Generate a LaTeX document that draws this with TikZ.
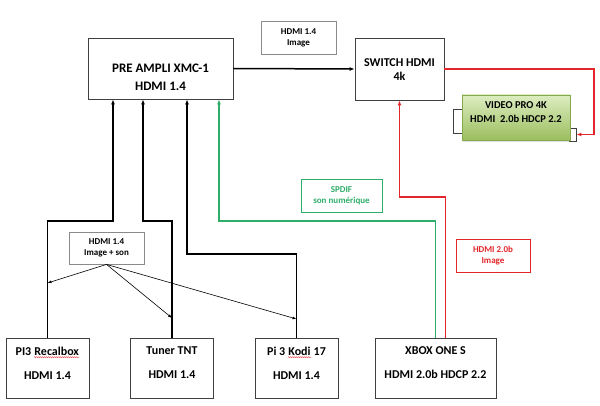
\documentclass[tikz,border=0pt]{standalone}
\usepackage{fontspec}
\setmainfont{Carlito}
\usepackage{xcolor}
\usetikzlibrary{arrows.meta,shadows,decorations.pathmorphing}
\definecolor{cableRed}{HTML}{E3262B}
\definecolor{cableGreen}{HTML}{2FAE6A}
\definecolor{tagGray}{HTML}{8A8A8A}
\definecolor{proTop}{HTML}{DCEDC1}
\definecolor{proBottom}{HTML}{9CBE5E}
\definecolor{proEdge}{HTML}{86A84E}
\newcommand\spellwave[1]{\tikz[baseline=(sw.base)]{\node[inner sep=0pt] (sw) {#1};
  \draw[cableRed, line width=0.35pt, decorate, decoration={snake, amplitude=0.5pt, segment length=2pt}]
    ([yshift=-2pt]sw.base west) -- ([yshift=-2pt]sw.base east);}}

\tikzset{
  devbox/.style={draw=black!75, line width=0.8pt, fill=white, inner sep=0pt},
  devtext/.style={align=center, inner sep=0pt, font=\bfseries\fontsize{12}{24}\selectfont},
  portbox/.style={draw=black!75, line width=0.8pt, fill=white, inner sep=0pt},
  tagbox/.style={draw=tagGray, line width=0.8pt, fill=white, align=center, inner sep=0pt,
    minimum height=33pt, font=\bfseries\fontsize{9}{11}\selectfont},
  cable/.style={line width=1.5pt, -{Latex[length=5pt,width=4pt]}},
  thinarrow/.style={line width=0.6pt, -{Latex[length=4pt,width=3pt]}},
}

\begin{document}
\begin{tikzpicture}[x=1pt, y=-1pt]
  \useasboundingbox (0,0) rectangle (600,406);

  % top row
  \node[devbox, minimum width=145pt, minimum height=61pt] (preampli) at (160.5,68.5) {};
  \node[devtext, font=\bfseries\fontsize{13}{18}\selectfont] (preampli-t) at (160.5,77) {PRE AMPLI XMC-1\\HDMI 1.4};
  \node[devbox, minimum width=89pt, minimum height=62pt] (switchhdmi) at (399.5,69) {};
  \node[devtext, font=\bfseries\fontsize{12}{14}\selectfont] (switchhdmi-t) at (399.5,70) {SWITCH HDMI\\4k};
  \node[tagbox, minimum width=75pt] (tagimage) at (298.5,37.5) {HDMI 1.4\\Image};

  % video pro and its ports
  \node[portbox, minimum width=10pt, minimum height=24pt] (vportin) at (458,121) {};
  \node[portbox, minimum width=7pt, minimum height=13pt] (vportout) at (572.5,134.5) {};
  \node[draw=proEdge, line width=0.6pt, top color=proTop, bottom color=proBottom,
    minimum width=108pt, minimum height=45pt, inner sep=0pt,
    drop shadow={opacity=0.25, shadow xshift=0.8pt, shadow yshift=-1.6pt}] (videopro) at (516,117.5) {};
  \node[devtext, font=\bfseries\fontsize{10.5}{14}\selectfont] (videopro-t) at (516,112.5) {VIDEO PRO 4K\\HDMI\ \ 2.0b HDCP 2.2};

  % sources
  \node[devbox, minimum width=83pt, minimum height=60pt] (recalbox) at (47.5,368) {};
  \node[devtext] (recalbox-t) at (47.5,363) {PI3 \spellwave{Recalbox}\\HDMI 1.4};
  \node[devbox, minimum width=83pt, minimum height=60pt] (tuner) at (172,368) {};
  \node[devtext] (tuner-t) at (172,363) {Tuner TNT\\HDMI 1.4};
  \node[devbox, minimum width=83pt, minimum height=60pt] (kodi) at (296.5,368) {};
  \node[devtext] (kodi-t) at (296.5,363) {Pi 3 \spellwave{Kodi} 17\\HDMI 1.4};
  \node[devbox, minimum width=121pt, minimum height=60pt] (xbox) at (435.5,368) {};
  \node[devtext] (xbox-t) at (435.5,363) {XBOX ONE S\\HDMI 2.0b HDCP 2.2};

  % cables
  \draw[cable] (preampli.east) -- (switchhdmi.west);
  \draw[cable] (recalbox.north) |- (113,221) -- ([xshift=-47.5pt]preampli.south);
  \draw[cable] (tuner.north) |- (143,221) -- ([xshift=-17.5pt]preampli.south);
  \draw[cable] (kodi.north) |- (187,254) -- ([xshift=26.5pt]preampli.south);
  \draw[cable, cableGreen] (xbox.north) |- (219,221) -- ([xshift=58.5pt]preampli.south);
  \draw[cable, cableRed] ([xshift=10pt]xbox.north) |- (399.5,197) -- (switchhdmi.south);
  \draw[cable, cableRed] (switchhdmi.east) -| ([xshift=17.5pt]vportout.east) -- (vportout.east);

  % tags on the cables
  \node[tagbox, minimum width=75pt, minimum height=32pt] (tagson) at (106.5,248) {HDMI 1.4\\Image + son};
  \node[tagbox, draw=cableGreen, text=cableGreen, minimum width=81pt] (tagspdif) at (341.5,195.5) {SPDIF\\son num\'erique};
  \node[tagbox, draw=cableRed, text=cableRed, minimum width=74pt] (tagred) at (493,255.5) {HDMI 2.0b\\Image};

  \coordinate (hitrecal) at (47.5,283);
  \coordinate (hittuner) at (172,318);
  \coordinate (hitkodi) at (296.5,319);
  \draw[thinarrow] (tagson.south) -- (hitrecal);
  \draw[thinarrow] (tagson.south) -- (hittuner);
  \draw[thinarrow] (tagson.south) -- (hitkodi);
\end{tikzpicture}
\end{document}
